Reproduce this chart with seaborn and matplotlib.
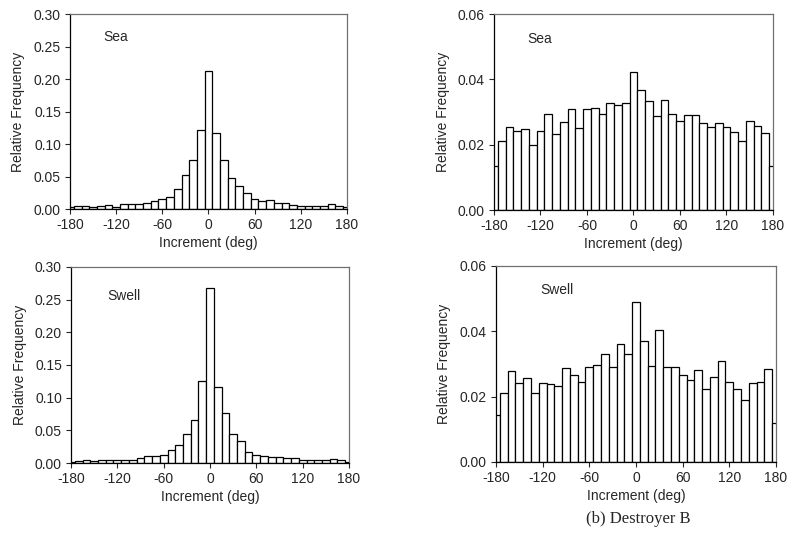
# Wave direction increment histograms - relative frequency
import numpy as np
import pandas as pd
import matplotlib
matplotlib.use('Agg')
import matplotlib.pyplot as plt
import seaborn as sns

# ----------------------------------------
# Data (bin centres every 10 deg)
# ----------------------------------------
increments = list(range(-180, 181, 10))

left_sea = [0.003, 0.005, 0.005, 0.003, 0.004, 0.006, 0.003, 0.007, 0.007, 0.007,
            0.009, 0.012, 0.015, 0.018, 0.031, 0.052, 0.076, 0.122, 0.212, 0.117,
            0.076, 0.048, 0.035, 0.024, 0.015, 0.012, 0.014, 0.009, 0.009, 0.006,
            0.004, 0.004, 0.005, 0.004, 0.007, 0.005, 0.003]

left_swell = [0.002, 0.003, 0.005, 0.003, 0.005, 0.004, 0.005, 0.005, 0.005, 0.008,
              0.010, 0.011, 0.013, 0.020, 0.028, 0.045, 0.066, 0.125, 0.268, 0.117,
              0.076, 0.045, 0.034, 0.017, 0.013, 0.011, 0.009, 0.009, 0.008, 0.007,
              0.005, 0.005, 0.004, 0.004, 0.006, 0.004, 0.002]

right_sea = [0.0136, 0.0210, 0.0253, 0.0243, 0.0247, 0.0198, 0.0243, 0.0295, 0.0233, 0.0268,
             0.0309, 0.0250, 0.0309, 0.0313, 0.0295, 0.0328, 0.0323, 0.0328, 0.0424, 0.0366,
             0.0333, 0.0287, 0.0336, 0.0295, 0.0272, 0.0290, 0.0290, 0.0265, 0.0253, 0.0265,
             0.0253, 0.0239, 0.0210, 0.0271, 0.0257, 0.0235, 0.0136]

right_swell = [0.0143, 0.0212, 0.0279, 0.0242, 0.0257, 0.0212, 0.0242, 0.0238, 0.0232, 0.0287,
               0.0267, 0.0245, 0.0291, 0.0296, 0.0332, 0.0291, 0.0360, 0.0332, 0.0491, 0.0369,
               0.0295, 0.0405, 0.0291, 0.0291, 0.0267, 0.0250, 0.0283, 0.0223, 0.0261, 0.0309,
               0.0245, 0.0223, 0.0191, 0.0242, 0.0245, 0.0284, 0.0120]

x_ticks = [-180, -120, -60, 0, 60, 120, 180]

# ----------------------------------------
# Style
# ----------------------------------------
sns.set_style("ticks")
plt.rcParams['font.family'] = ['Liberation Sans', 'DejaVu Sans']
plt.rcParams['axes.unicode_minus'] = False
fs = 10

fig = plt.figure(figsize=(7.89, 5.37), dpi=100)

panels = [
    # (position, values, label, label pos, ymax, ystep)
    ([0.0887, 0.6108, 0.3510, 0.3631], left_sea, 'Sea', (0.12, 0.88), 0.30, 0.05),
    ([0.6261, 0.6089, 0.3536, 0.3650], right_sea, 'Sea', (0.12, 0.87), 0.06, 0.02),
    ([0.0900, 0.1378, 0.3523, 0.3650], left_swell, 'Swell', (0.13, 0.85), 0.30, 0.05),
    ([0.6286, 0.1397, 0.3549, 0.3650], right_swell, 'Swell', (0.157, 0.877), 0.06, 0.02),
]

for pos, values, label, lpos, ymax, ystep in panels:
    ax = fig.add_axes(pos)
    df = pd.DataFrame({'increment': increments, 'freq': values})
    sns.histplot(data=df, x='increment', weights='freq', binwidth=10,
                 binrange=(-185, 185), stat='count', color='white',
                 edgecolor='black', linewidth=0.9, alpha=1, ax=ax)
    ax.set_xlim(-180, 180)
    ax.set_ylim(0, ymax)
    ax.set_xticks(x_ticks)
    ax.set_yticks(np.arange(0, ymax + ystep / 2, ystep))
    ax.yaxis.set_major_formatter(matplotlib.ticker.FormatStrFormatter('%.2f'))
    ax.tick_params(direction='out', length=3.5, width=0.8, labelsize=fs, pad=3)
    ax.set_xlabel('Increment (deg)', fontsize=fs, labelpad=3)
    ax.set_ylabel('Relative Frequency', fontsize=fs, labelpad=6)
    for side in ['left', 'bottom']:
        ax.spines[side].set_color('black')
        ax.spines[side].set_linewidth(0.9)
    for side in ['top', 'right']:
        ax.spines[side].set_visible(True)
        ax.spines[side].set_color('#707070')
        ax.spines[side].set_linewidth(0.9)
    ax.text(lpos[0], lpos[1], label, transform=ax.transAxes,
            ha='left', va='center', fontsize=fs)

fig.text(0.809, 0.0335, '(b) Destroyer B', ha='center', va='center',
         fontsize=12, family=['Liberation Serif', 'DejaVu Serif'])

plt.savefig('out.png', dpi=100)
